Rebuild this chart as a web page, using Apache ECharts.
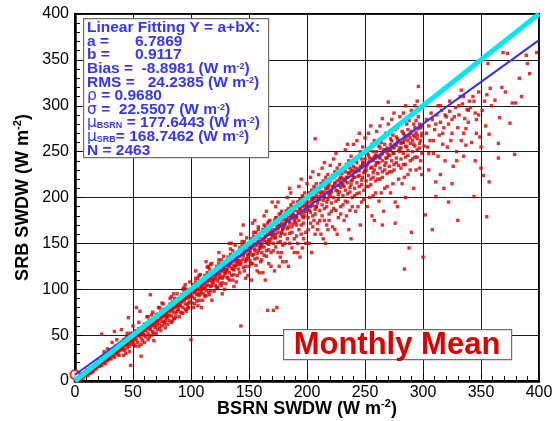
<!DOCTYPE html>
<html>
<head>
<meta charset="utf-8">
<script src="https://cdn.jsdelivr.net/npm/echarts@6/dist/echarts.min.js"></script>
<style>
html,body{margin:0;padding:0;background:#fff;}
#chart{width:555px;height:421px;}
</style>
</head>
<body>
<div id="chart"></div>
<script>
// ---- data ----
const fitA = 6.7869;
const fitB = 0.9117;
const statBias = -8.8981;
const statRMS = 24.2385;
const statRho = 0.9680;
const statSigma = 22.5507;
const statMuBSRN = 177.6443;
const statMuSRB = 168.7462;
const statN = 2463;
const xAxisTitle = 'BSRN SWDW (W m';
const yAxisTitle = 'SRB SWDW (W m';
const boxLabel = 'Monthly Mean';
const lineEnds = [0, 400];
const originMarker = [[0, 7]];

const scatterPoints = [
[1,1],[2,3],[3,2],[4,5],[5,4],[6,6],[7,5],[8,9],[9,7],[2,0],[3,4],[5,2],[6,8],[7,3],[8,6],[9,10],[10,8],[4,1],[1,3],[0,2],
[11,10],[12,12],[13,9],[14,13],[15,12],[16,15],[17,14],[18,16],[19,17],[11,6],[13,14],[15,10],[16,11],[17,18],[18,13],[19,15],[12,8],[14,9],[20,18],[10,12],
[21,20],[22,18],[23,22],[24,21],[25,20],[26,25],[27,23],[28,26],[29,24],[21,16],[23,17],[24,26],[25,24],[26,19],[27,28],[28,22],[29,30],[23,51],[30,25],[20,22],[25,32],[28,35],
[31,28],[32,30],[33,27],[34,32],[35,31],[36,29],[37,35],[38,33],[39,36],[31,24],[33,35],[34,26],[35,38],[36,33],[37,30],[38,28],[39,40],[32,42],[34,54],[36,45],[30,34],[40,35],
[41,38],[42,36],[43,40],[44,39],[45,42],[46,41],[47,38],[48,44],[49,40],[41,34],[42,45],[43,33],[44,47],[45,36],[46,50],[47,43],[48,17],[49,46],[40,56],[46,69],[44,30],[50,44],[48,52],
[51,46],[52,48],[53,45],[54,50],[55,49],[56,52],[57,47],[58,53],[59,51],[51,40],[52,55],[53,80],[54,42],[55,57],[56,76],[57,27],[58,44],[59,58],[50,52],[55,38],[60,50],
[61,55],[62,57],[63,52],[64,58],[65,56],[66,60],[67,54],[68,61],[69,58],[61,48],[62,63],[63,45],[64,66],[65,94],[66,50],[67,65],[68,52],[69,64],[60,62],[70,60],[66,72],[63,70],
[71,63],[72,66],[73,62],[74,68],[75,65],[76,70],[77,64],[78,71],[79,69],[71,56],[72,73],[73,58],[74,76],[75,60],[76,78],[77,62],[78,66],[79,75],[70,72],[80,70],[75,85],[73,80],
[81,72],[82,76],[83,71],[84,78],[85,75],[86,80],[87,74],[88,81],[89,78],[81,66],[82,84],[83,64],[84,86],[85,68],[86,90],[87,70],[88,76],[89,85],[80,80],[90,82],[85,95],[83,92],
[91,82],[92,86],[93,80],[94,88],[95,84],[96,90],[97,83],[98,91],[99,87],[91,75],[92,94],[93,74],[94,96],[95,78],[96,100],[97,79],[98,85],[99,95],[90,90],[100,92],[95,105],[93,100],[100,45],
[101,92],[102,96],[103,90],[104,98],[105,94],[106,100],[107,93],[108,101],[109,97],[101,85],[102,105],[103,84],[104,108],[105,87],[106,112],[107,88],[108,95],[109,106],[100,100],[110,100],[104,120],[107,115],[109,80],
[111,102],[112,106],[113,99],[114,108],[115,104],[116,110],[117,103],[118,112],[119,107],[111,95],[112,115],[113,93],[114,118],[115,97],[116,122],[117,98],[118,104],[119,116],[110,110],[120,110],[113,130],[117,127],[118,88],[115,125],
[121,112],[122,116],[123,109],[124,118],[125,113],[126,120],[127,112],[128,122],[129,117],[121,104],[122,125],[123,102],[124,128],[125,106],[126,132],[127,107],[128,114],[129,126],[120,120],[130,120],[124,140],[127,95],[129,100],
[131,122],[132,126],[133,118],[134,128],[135,123],[136,130],[137,121],[138,132],[139,126],[131,113],[132,135],[133,110],[134,138],[135,115],[136,142],[137,116],[138,124],[139,136],[130,130],[140,128],[133,150],[137,103],[139,108],[135,150],
[141,131],[142,136],[143,128],[144,138],[145,133],[146,140],[147,130],[148,142],[149,135],[141,122],[142,145],[143,60],[144,148],[145,124],[146,152],[147,125],[148,133],[149,146],[140,140],[150,138],[143,160],[147,112],[149,115],[145,170],
[151,140],[152,145],[153,137],[154,148],[155,142],[156,150],[157,139],[158,152],[159,145],[151,131],[152,155],[153,128],[154,158],[155,133],[156,162],[157,134],[158,142],[159,156],[150,150],[160,148],[153,172],[157,120],[159,118],[155,175],[152,110],[158,165],
[161,150],[162,155],[163,146],[164,158],[165,152],[166,160],[167,149],[168,162],[169,155],[161,140],[162,165],[163,137],[164,168],[165,142],[166,172],[167,143],[168,152],[169,166],[160,160],[170,158],[163,180],[167,128],[169,125],[165,185],[166,77],[162,118],[168,175],
[171,160],[172,165],[173,156],[174,168],[175,162],[176,170],[177,158],[178,172],[179,165],[171,150],[172,175],[173,146],[174,178],[175,151],[176,182],[177,152],[178,161],[179,176],[170,170],[180,168],[173,190],[177,135],[179,130],[175,195],[171,77],[174,80],[176,125],[178,185],
[181,170],[182,175],[183,166],[184,178],[185,172],[186,180],[187,168],[188,182],[189,175],[181,160],[182,185],[183,155],[184,188],[185,161],[186,192],[187,162],[188,171],[189,186],[180,180],[190,178],[183,200],[187,145],[189,140],[185,210],[182,130],[188,195],
[191,180],[192,185],[193,175],[194,188],[195,182],[196,190],[197,178],[198,192],[199,185],[191,170],[192,195],[193,165],[194,198],[195,170],[196,202],[197,172],[198,180],[199,196],[190,190],[200,188],[193,212],[197,155],[199,150],[195,220],[192,140],[198,205],[194,135],
[201,190],[202,195],[203,184],[204,198],[205,191],[206,200],[207,187],[208,202],[209,194],[201,178],[202,205],[203,172],[204,208],[205,180],[206,212],[207,182],[208,190],[209,206],[200,200],[210,198],[203,222],[207,160],[209,165],[205,228],[202,150],[208,215],[207,264],
[211,198],[212,204],[213,192],[214,206],[215,200],[216,210],[217,195],[218,212],[219,203],[211,186],[212,215],[213,180],[214,218],[215,188],[216,222],[217,190],[218,198],[219,214],[210,210],[220,206],[213,232],[217,170],[219,175],[215,238],[212,160],[218,225],[216,150],
[221,206],[222,212],[223,200],[224,215],[225,208],[226,218],[227,203],[228,220],[229,211],[221,194],[222,224],[223,188],[224,228],[225,196],[226,232],[227,198],[228,206],[229,222],[220,218],[230,214],[223,242],[227,178],[229,182],[225,248],[222,168],[228,236],[226,160],
[231,214],[232,220],[233,208],[234,222],[235,216],[236,226],[237,211],[238,228],[239,219],[231,202],[232,232],[233,196],[234,236],[235,204],[236,240],[237,206],[238,214],[239,230],[230,226],[240,222],[233,252],[237,186],[239,190],[235,258],[232,175],[238,245],[236,165],
[241,222],[242,228],[243,216],[244,231],[245,224],[246,234],[247,219],[248,236],[249,227],[241,210],[242,240],[243,204],[244,244],[245,212],[246,250],[247,214],[248,222],[249,238],[240,234],[250,230],[243,262],[247,195],[249,198],[245,270],[242,185],[248,255],[246,170],
[251,230],[252,236],[253,224],[254,239],[255,232],[256,242],[257,227],[258,244],[259,235],[251,218],[252,248],[253,212],[254,252],[255,220],[256,258],[257,222],[258,230],[259,246],[250,242],[260,238],[253,270],[257,202],[259,205],[255,278],[252,190],[258,262],[256,180],
[261,238],[262,244],[263,232],[264,247],[265,240],[266,250],[267,235],[268,252],[269,243],[261,226],[262,256],[263,220],[264,260],[265,228],[266,266],[267,230],[268,238],[269,254],[260,250],[270,246],[263,278],[267,210],[269,212],[265,286],[262,196],[268,270],[270,304],[266,185],
[271,246],[272,252],[273,240],[274,255],[275,248],[276,258],[277,243],[278,260],[279,251],[271,234],[272,264],[273,228],[274,268],[275,236],[276,274],[277,238],[278,190],[279,262],[280,254],[273,285],[276,172],[279,220],[275,292],[272,205],[278,276],
[281,254],[282,260],[283,248],[284,263],[285,256],[286,266],[287,251],[288,268],[289,259],[281,242],[282,272],[283,236],[284,122],[285,244],[286,280],[287,246],[288,145],[289,270],[290,162],[283,292],[287,225],[289,230],[285,300],[282,215],[288,284],
[291,262],[292,268],[293,256],[294,271],[295,264],[296,321],[297,259],[298,276],[299,267],[291,250],[292,280],[293,244],[294,284],[295,252],[296,288],[297,254],[298,240],[299,278],[300,135],[293,300],[297,232],[299,225],[295,305],
[302,181],[303,270],[305,278],[306,262],[308,285],[310,274],[311,201],[311,217],[312,290],[314,268],[315,282],[316,295],[318,210],[318,276],[320,288],[304,255],[309,248],[313,300],[317,258],[319,240],
[322,280],[323,294],[325,285],[326,234],[328,298],[330,276],[331,290],[333,317],[334,302],[336,286],[337,257],[338,296],[340,305],[324,262],[329,250],[335,270],[339,282],[332,310],
[341,298],[343,310],[345,292],[344,201],[348,315],[349,266],[350,232],[352,224],[353,305],[355,312],[356,346],[357,217],[357,269],[358,319],[359,300],[355,179],[346,285],[351,295],[354,278],
[362,306],[365,259],[365,243],[366,287],[369,358],[371,315],[373,357],[375,281],[377,303],[379,247],[380,303],[389,355],[390,346],[398,358],[368,320],[383,330],[392,335],[385,310],
[42,28],[45,52],[47,32],[50,60],[52,38],[55,64],[57,40],[60,42],[62,70],[64,48],[67,75],[68,44],[70,52],[72,80],[74,55],[76,84],[78,58],[80,62],[82,90],[84,65],[86,68],[88,95],[90,70],[92,74],[94,102],[96,76],[98,80],[99,108],
[102,80],[104,112],[106,82],[108,116],[110,88],[112,92],[114,124],[116,94],[118,128],[120,98],[122,102],[124,132],[126,104],[128,136],[130,106],[132,112],[134,144],[136,110],[138,148],[140,115],[142,118],[144,152],[146,120],[148,156],[150,125],[152,128],[154,162],[156,126],[158,168],[160,130],
[161,132],[163,170],[165,136],[167,174],[169,140],[171,142],[173,178],[175,140],[177,182],[179,148],[181,150],[183,186],[185,150],[187,190],[189,155],[191,158],[193,195],[195,160],[197,200],[199,162],[201,165],[203,205],[205,168],[207,210],[209,172],[211,175],[213,215],[215,175],[217,218],[219,182],[221,185],[223,222],[225,186],[227,226],[229,190],
[164,110],[172,120],[184,125],[196,145],[204,140],[214,155],[224,165],[170,195],[186,205],[200,215],[210,225],[220,235],[178,140],[192,150],[206,175],[218,165],
[231,192],[233,228],[235,195],[237,232],[239,200],[241,202],[243,238],[245,205],[247,242],[249,208],[251,212],[253,246],[255,214],[257,250],[259,218],[261,220],[263,254],[265,222],[267,258],[269,226],[271,228],[273,262],[275,230],[277,266],[279,235],[281,232],[283,270],[285,236],[287,274],[289,240],[291,242],[293,276],[295,244],[297,280],[299,248],
[234,180],[244,190],[254,200],[264,205],[274,215],[284,222],[294,230],[240,258],[250,265],[260,272],[270,280],[280,288],[290,295],[238,155],[258,175],[276,195],[292,210],[265,170],[285,200],
[301,256],[303,285],[305,248],[307,292],[309,262],[311,280],[313,245],[315,300],[317,270],[319,290],[321,255],[323,305],[325,270],[327,288],[329,240],[331,300],[333,262],[335,310],[337,275],[339,295],[342,260],[344,305],[346,270],[348,290],[350,255],
[305,230],[315,225],[325,215],[335,245],[345,240],[308,165],[322,195],[330,175],
[103,97],[106,95],[109,103],[112,101],[115,110],[118,108],[121,115],[124,112],[127,120],[130,118],[133,125],[136,122],[139,130],[142,127],[145,137],[148,132],[151,143],[154,138],[157,148],[160,145],[163,153],[166,150],[169,160],[172,156],[175,166],[178,162],[181,172],[184,168],[187,178],[190,173],[193,183],[196,179],[199,190],[202,186],[205,196],[208,190],[211,201],[214,197],[217,206],[220,202],[223,212],[226,207],[229,217],[232,212],[235,222],[238,218],[241,228],[244,223],[247,233],[250,228],[253,238],[256,233],[259,243],[262,238],[265,248],[268,243],[271,252],[274,248],[277,257],[280,250],[283,260],[286,255],[289,265],[292,258],[295,268],[298,262],
[104,102],[107,99],[110,106],[113,104],[116,113],[119,111],[122,118],[125,116],[128,124],[131,121],[134,129],[137,126],[140,133],[143,131],[146,141],[149,138],[152,147],[155,144],[158,151],[161,147],[164,157],[167,154],[170,163],[173,160],[176,169],[179,166],[182,176],[185,174],[188,181],[191,178],[194,187],[197,184],[200,193],[203,190],[206,199],[209,197],[212,206],[215,203],[218,210],[221,208],[224,216],[227,213],[230,221],[233,218],[236,227],[239,224],[242,232],[245,229],[248,238],[251,234],[254,243],[257,240],[260,246],[263,243],[266,252],[269,249],[272,258],[275,254],[278,264],[281,259],[284,268],[287,262],[290,272],[293,266],[296,275],[299,270],
[5,6],[7,7],[9,9],[11,11],[13,12],[15,14],[17,16],[19,19],[21,22],[23,20],[25,23],[27,25],[29,27],[31,30],[33,31],[35,33],[37,33],[39,34],[41,40],[43,42],[45,40],[47,45],[49,43],[51,49],[53,50],[55,52],[57,52],[59,55],[61,58],[63,60],[65,60],[67,62],[69,66],[71,66],[73,70],[75,70],[77,72],[79,73],[81,77],[83,78],[85,80],[87,82],[89,83],[91,86],[93,88],[95,90],[97,92],[99,92]
];

// ---- chart ----
const oneToOne = lineEnds.map(v => [v, v]);
const fitLine = lineEnds.map(v => [v, fitA + fitB * v]);

const blue = '#3535ff';
const ff = 'Arial, "Liberation Sans"';
const txt = {fontSize: 15.5, fontWeight: 'bold', fontFamily: ff, fill: blue, lineHeight: 13.6};
const sup = {fontSize: 9, fontWeight: 'bold', fontFamily: ff, fill: blue, lineHeight: 9, verticalAlign: 'top'};
const sub = {fontSize: 9, fontWeight: 'bold', fontFamily: ff, fill: blue, lineHeight: 9, verticalAlign: 'bottom'};
const grk = {fontSize: 15.5, fontWeight: 'normal', fontFamily: '"DejaVu Sans", Arial', fill: blue, lineHeight: 13.6};
const lab = Object.assign({}, txt, {width: 48});
const unit = '{t| (W m}{sup|-2}{t|)}';

const statsText = [
  '{t|Linear Fitting Y = a+bX:}',
  '{lab|a =}{t|' + fitA.toFixed(4) + '}',
  '{lab|b =}{t|' + fitB.toFixed(4) + '}',
  '{t|Bias =  ' + statBias.toFixed(4) + '}' + unit,
  '{t|RMS =   ' + statRMS.toFixed(4) + '}' + unit,
  '{g|ρ}{t| = ' + statRho.toFixed(4) + '}',
  '{g|σ}{t| =  ' + statSigma.toFixed(4) + '}' + unit,
  '{g|μ}{sub|BSRN}{t| = ' + statMuBSRN.toFixed(4) + '}' + unit,
  '{g|μ}{sub|SRB}{t|= ' + statMuSRB.toFixed(4) + '}' + unit,
  '{t|N = ' + statN + '}'
].join('\n');

const axisNameRich = {
  b: {fontSize: 18, fontWeight: 'bold', fontFamily: ff, color: '#000', lineHeight: 22},
  s: {fontSize: 11, fontWeight: 'bold', fontFamily: ff, color: '#000', lineHeight: 11, verticalAlign: 'top'}
};

function axisCommon() {
  return {
    type: 'value', min: 0, max: 400, interval: 50,
    axisLine: {show: true, onZero: false, lineStyle: {color: '#000', width: 2.5}},
    axisTick: {show: true, inside: true, length: 7, lineStyle: {color: '#000', width: 1}},
    minorTick: {show: true, splitNumber: 5, length: 5, lineStyle: {color: '#000', width: 1}},
    splitLine: {show: true, lineStyle: {color: '#1c1c1c', width: 1}},
    axisLabel: {color: '#000', fontSize: 16, fontFamily: ff},
    nameLocation: 'middle',
    nameMoveOverlap: false,
    nameTextStyle: {rich: axisNameRich}
  };
}

const xAxis = Object.assign(axisCommon(), {
  name: '{b|' + xAxisTitle + '}{s|-2}{b|)}', nameGap: 17
});
xAxis.axisLabel.margin = 4;
const yAxis = Object.assign(axisCommon(), {
  name: '{b|' + yAxisTitle + '}{s|-2}{b|)}', nameGap: 41
});
yAxis.axisLabel.margin = 6;

const chart = echarts.init(document.getElementById('chart'), null, {renderer: 'canvas'});
chart.setOption({
  animation: false,
  backgroundColor: '#fff',
  grid: {left: 75, right: 16, top: 14, bottom: 40, containLabel: false, outerBoundsMode: 'none', show: true, borderColor: '#000', borderWidth: 2, backgroundColor: '#fff'},
  xAxis: xAxis,
  yAxis: yAxis,
  series: [
    {type: 'scatter', data: scatterPoints, symbol: 'rect', symbolSize: 3.4, itemStyle: {color: '#d80000'}, z: 2, silent: true, large: false},
    {type: 'scatter', data: originMarker, symbol: 'emptyCircle', symbolSize: 9, itemStyle: {color: '#e00000', borderColor: '#e00000', borderWidth: 1}, z: 2, clip: false, silent: true},
    {type: 'line', data: fitLine, showSymbol: false, lineStyle: {color: '#3333ee', width: 2}, z: 3, silent: true},
    {type: 'line', data: oneToOne, showSymbol: false, lineStyle: {color: '#00e8f0', width: 5}, z: 4, silent: true}
  ],
  graphic: [
    {type: 'rect', left: 83, top: 18, shape: {width: 185, height: 139}, style: {fill: '#fff', stroke: '#707070', lineWidth: 1.2}, z: 10},
    {type: 'text', left: 87, top: 20, z: 11, style: {text: statsText, rich: {t: txt, sup: sup, sub: sub, g: grk, lab: lab}}},
    {type: 'rect', left: 283, top: 329, shape: {width: 228, height: 30}, style: {fill: '#fff', stroke: '#707070', lineWidth: 1.2}, z: 10},
    {type: 'text', x: 397, y: 345, z: 11, style: {text: boxLabel, fontSize: 31, fontWeight: 'bold', fontFamily: ff, fill: '#dd0000', align: 'center', verticalAlign: 'middle'}}
  ]
});
</script>
</body>
</html>
